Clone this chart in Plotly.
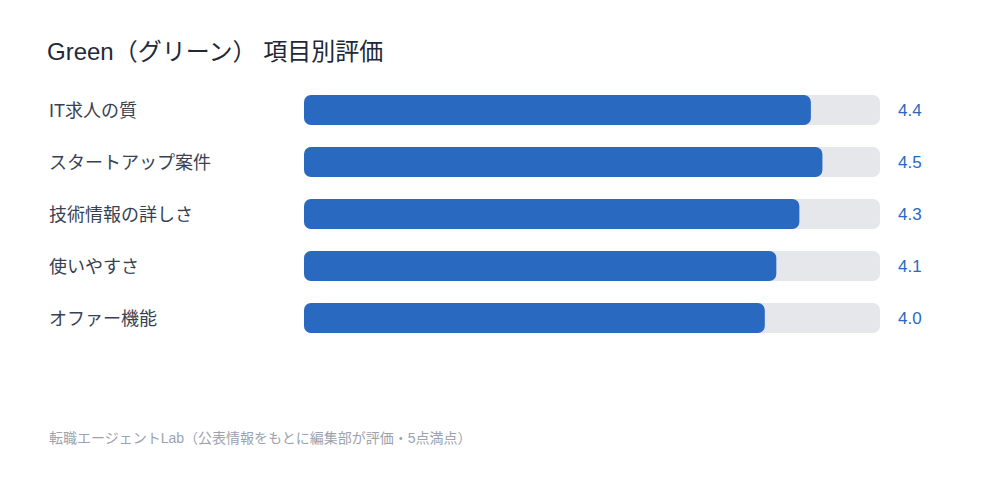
import plotly.graph_objects as go

categories = ["IT求人の質", "スタートアップ案件", "技術情報の詳しさ", "使いやすさ", "オファー機能"]
scores = [4.4, 4.5, 4.3, 4.1, 4.0]
max_score = 5
value_labels = ["4.4", "4.5", "4.3", "4.1", "4.0"]

title_text = "Green（グリーン） 項目別評価"
source_text = "転職エージェントLab（公表情報をもとに編集部が評価・5点満点）"

blue = "#2a69c0"
track = "#e5e7eb"
font_family = "'Liberation Sans', 'Noto Sans CJK JP', sans-serif"

# page puts the plot 8px in from the window edge
off = 8
plot_left, plot_width = 304 - off, 576
plot_top, plot_height = 84 - off, 260

fig = go.Figure()
# base=0 makes plotly round both ends of the bar
fig.add_trace(
    go.Bar(
        x=[max_score] * len(categories),
        base=[0] * len(categories),
        y=categories,
        orientation="h",
        marker=dict(color=track, cornerradius=7, line=dict(width=0)),
        hoverinfo="skip",
        showlegend=False,
    )
)
fig.add_trace(
    go.Bar(
        x=scores,
        base=[0] * len(categories),
        y=categories,
        orientation="h",
        marker=dict(color=blue, cornerradius=7, line=dict(width=0)),
        hovertemplate="%{y}: %{x}<extra></extra>",
        showlegend=False,
    )
)

# category labels on the left, values on the right
for cat, lab in zip(categories, value_labels):
    fig.add_annotation(
        x=(47 - off - plot_left) / plot_width,
        xref="paper",
        y=cat,
        yref="y",
        yshift=-1,
        text=cat,
        showarrow=False,
        xanchor="left",
        font=dict(size=18, color="#374151"),
    )
    fig.add_annotation(
        x=(896 - off - plot_left) / plot_width,
        xref="paper",
        y=cat,
        yref="y",
        text=lab,
        showarrow=False,
        xanchor="left",
        font=dict(size=17, color=blue),
    )

fig.add_annotation(
    x=(47 - off - plot_left) / plot_width,
    y=1 - (438 - off - plot_top) / plot_height,
    xref="paper",
    yref="paper",
    text=source_text,
    showarrow=False,
    xanchor="left",
    yanchor="middle",
    font=dict(size=14, color="#9ca3af"),
)

fig.update_layout(
    width=1000,
    height=480,
    margin=dict(l=plot_left, r=1000 - plot_left - plot_width, t=plot_top, b=480 - plot_top - plot_height),
    barmode="overlay",
    bargap=0.42,
    paper_bgcolor="white",
    plot_bgcolor="white",
    font=dict(family=font_family),
    title=dict(
        text=title_text,
        x=(47 - off) / 1000,
        xanchor="left",
        y=1 - (52 - off) / 480,
        yanchor="middle",
        font=dict(size=24, color="#1f2937"),
    ),
    xaxis=dict(range=[0, max_score], visible=False, fixedrange=True),
    yaxis=dict(
        categoryorder="array",
        categoryarray=categories,
        autorange="reversed",
        visible=False,
        fixedrange=True,
    ),
)

fig.write_html("out.html")
